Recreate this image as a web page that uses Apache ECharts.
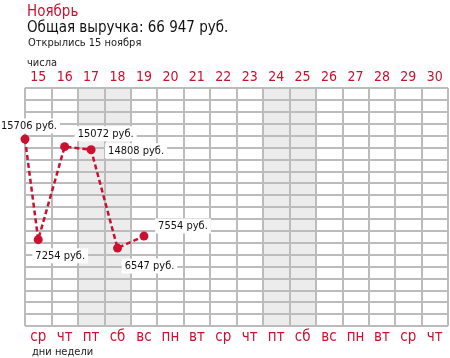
<!DOCTYPE html>
<html><head><meta charset="utf-8">
<script src="https://cdn.jsdelivr.net/npm/echarts@6/dist/echarts.min.js"></script>
<style>html,body{margin:0;padding:0;background:#fff}#c{width:450px;height:358px}</style>
</head><body><div id="c"></div>
<script>
// Data
var days = ['15','16','17','18','19','20','21','22','23','24','25','26','27','28','29','30'];
var weekdays = ['ср','чт','пт','сб','вс','пн','вт','ср','чт','пт','сб','вс','пн','вт','ср','чт'];
var pointX = [0, 0.5, 1.5, 2.5, 3.5, 4.5];          // position in day-column units
var revenue = [15706, 7254, 15072, 14808, 6547, 7554];
var shadedDays = [['17','18'], ['24','25']];
var titleText = 'Ноябрь';
var totalText = 'Общая выручка: 66 947 руб.';
var subText = 'Открылись 15 ноября';

var RED = '#cc1030';
var GRID = '#bcbcbc';
var FONT = '"DejaVu Sans Condensed", "Liberation Sans", sans-serif';

// label offsets (style)
var labelOffsets = [[4,-13],[22,16],[41,-13],[45,1],[32,18],[39,-10]];

var splitColors = days.map(function(d){
  var shaded = shadedDays.some(function(p){return p.indexOf(d) >= 0;});
  return shaded ? '#ececec' : '#ffffff';
});

var seriesData = revenue.map(function(v, i){
  return {
    value: [pointX[i], v],
    label: {
      show: true, position: 'inside', offset: labelOffsets[i],
      formatter: v + ' руб.', color: '#111', fontSize: 11, fontFamily: FONT,
      backgroundColor: '#fff', padding: [2, 3]
    }
  };
});

var chart = echarts.init(document.getElementById('c'), null, {renderer: 'canvas'});
chart.setOption({
  animation: false,
  textStyle: {fontFamily: FONT},
  title: [
    {text: titleText, left: 22, top: 0, textStyle: {color: RED, fontSize: 15, fontWeight: 'normal', fontFamily: FONT}},
    {text: totalText, left: 22, top: 16, textStyle: {color: '#111', fontSize: 15, fontWeight: 'normal', fontFamily: FONT}},
    {text: subText, left: 23, top: 33, textStyle: {color: '#222', fontSize: 11, fontWeight: 'normal', fontFamily: FONT}},
    {text: 'числа', left: 22, top: 53, textStyle: {color: '#222', fontSize: 11, fontWeight: 'normal', fontFamily: FONT}},
    {text: 'дни недели', left: 27, top: 342, textStyle: {color: '#222', fontSize: 11, fontWeight: 'normal', fontFamily: FONT}}
  ],
  grid: {left: 25, right: 2, top: 88, bottom: 32, containLabel: false},
  xAxis: [
    {type: 'value', min: 0, max: 16, interval: 1, show: true, z: 0,
     axisLine: {show: false}, axisTick: {show: false}, axisLabel: {show: false},
     splitLine: {show: true, lineStyle: {color: GRID, width: 2}},
     splitArea: {show: true, areaStyle: {color: splitColors}}},
    {type: 'category', data: days, position: 'top', boundaryGap: true,
     axisLine: {show: false}, axisTick: {show: false},
     axisLabel: {color: RED, fontSize: 14, margin: 4, fontFamily: FONT, interval: 0}},
    {type: 'category', data: weekdays, position: 'bottom', boundaryGap: true,
     axisLine: {show: false}, axisTick: {show: false},
     axisLabel: {color: RED, fontSize: 15, margin: 4, fontFamily: FONT, interval: 0}}
  ],
  yAxis: {type: 'value', min: 0, max: 20000, interval: 1000, z: 1,
    axisLine: {show: false}, axisTick: {show: false}, axisLabel: {show: false},
    splitLine: {show: true, lineStyle: {color: GRID, width: 2}}},
  series: [{
    type: 'line', xAxisIndex: 0, data: seriesData,
    symbol: 'circle', symbolSize: 9,
    itemStyle: {color: RED},
    lineStyle: {color: RED, width: 2.5, type: [5, 3]},
    z: 5
  }]
});
</script></body></html>
